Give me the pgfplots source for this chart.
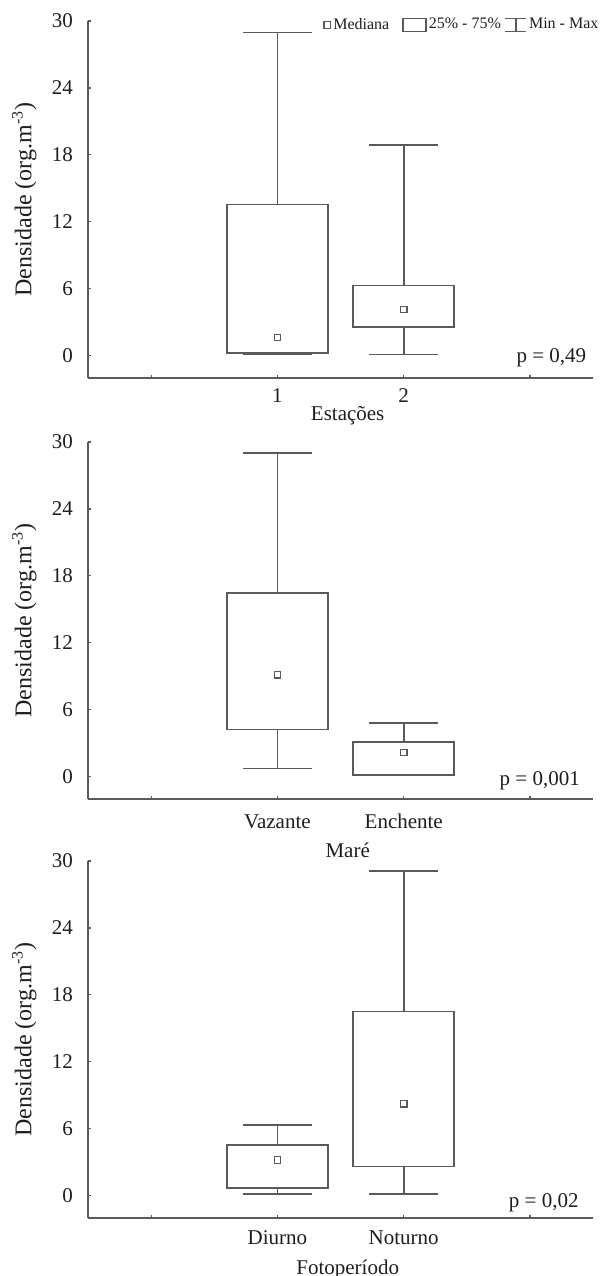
\documentclass[border=0pt]{standalone}
\usepackage{fontspec}
\setmainfont{Liberation Serif}
\usepackage{pgfplots}
\pgfplotsset{compat=1.18}
\usepgfplotslibrary{statistics}
\definecolor{lc}{HTML}{5A5A5A}
\definecolor{tc}{HTML}{1E1E1E}
\tikzset{pval/.style={anchor=base east, font=\fontsize{10.5}{12}\selectfont, text=tc}}
\pgfplotsset{
  panel/.style={
    width=252.6pt, height=178.5pt, scale only axis,
    xmin=-0.5, xmax=3.5, ymin=-2, ymax=30,
    axis x line=bottom, axis y line=left,
    axis line style={-, draw=lc, line width=0.8pt},
    xtick={0,1,2,3}, ytick={0,6,12,18,24,30},
    tick align=inside, major tick length=1.5pt,
    tick style={draw=lc, line width=0.6pt},
    /pgf/number format/assume math mode=true,
    ticklabel style={font=\fontsize{10.5}{12}\selectfont, text=tc},
    yticklabel style={xshift=-4pt},
    xticklabel style={anchor=base},
    ylabel={Densidade (org.m\textsuperscript{-3})},
    ylabel style={at={(axis description cs:-0.126,0.5)}, anchor=center, font=\fontsize{12}{14}\selectfont, text=tc},
    xlabel style={at={(axis description cs:0.514,0)}, anchor=base, font=\fontsize{10.5}{12}\selectfont, text=tc},
    clip=false,
    boxplot/draw direction=y,
    boxplot/draw/median/.code={},
    boxplot/box extend=0.8,
    boxplot/whisker extend=0.55,
  },
  bx/.style={draw=lc, line width=0.8pt, solid, fill=none, forget plot},
  med/.style={only marks, mark=square, mark size=1.6pt, draw=lc, mark options={line width=0.6pt, fill=white, solid}, forget plot},
}
\begin{document}
\begin{tikzpicture}
% ---------- Panel 1: Estacoes ----------
\begin{axis}[panel, at={(0,420pt)}, anchor=south west,
  xticklabels={{},1,2,{}},
  xticklabel style={yshift=-12.5pt},
  xlabel={Estações},
  xlabel style={yshift=-21.5pt},
  legend columns=3,
  legend style={at={(axis cs:1.36,29.64)}, anchor=west, draw=none, fill=none,
    font=\fontsize{8}{9}\selectfont, text=tc, inner sep=0pt,
    nodes={inner xsep=1pt, inner ysep=0.5pt},
    /tikz/column 2/.style={column sep=5.5pt},
    /tikz/column 4/.style={column sep=0.8pt}},
]
\addlegendimage{legend image code/.code={\draw[lc, line width=0.6pt] (0pt,-1.7pt) rectangle (3.4pt,1.7pt);}}
\addlegendentry{Mediana}
\addlegendimage{legend image code/.code={\draw[lc, line width=0.8pt] (0pt,-3.2pt) rectangle (11.5pt,3.2pt);}}
\addlegendentry{25\% - 75\%}
\addlegendimage{legend image code/.code={\draw[lc, line width=0.8pt] (0pt,3.2pt) -- (10.5pt,3.2pt) (5.25pt,3.2pt) -- (5.25pt,-3.2pt) (0pt,-3.2pt) -- (10.5pt,-3.2pt);}}
\addlegendentry{Min - Max}
\addplot[bx, boxplot prepared={draw position=1, lower whisker=0.15, lower quartile=0.24, median=1.64, upper quartile=13.55, upper whisker=28.98}] coordinates {};
\addplot[bx, boxplot prepared={draw position=2, lower whisker=0.09, lower quartile=2.57, median=4.15, upper quartile=6.3, upper whisker=18.9}] coordinates {};
\addplot[med] coordinates {(1,1.64) (2,4.15)};
\node[pval] at (axis cs:3.5,-0.65) {p = 0,49};
\end{axis}
% ---------- Panel 2: Mare ----------
\begin{axis}[panel, at={(0,209.5pt)}, anchor=south west,
  xticklabels={{},Vazante,Enchente,{}},
  xticklabel style={yshift=-15pt},
  xlabel={Maré},
  xlabel style={yshift=-29.5pt},
]
\addplot[bx, boxplot prepared={draw position=1, lower whisker=0.74, lower quartile=4.23, median=9.14, upper quartile=16.47, upper whisker=29.04}] coordinates {};
\addplot[bx, boxplot prepared={draw position=2, lower whisker=0.15, lower quartile=0.15, median=2.17, upper quartile=3.13, upper whisker=4.83}] coordinates {};
\addplot[med] coordinates {(1,9.14) (2,2.17)};
\node[pval] at (axis cs:3.45,-0.75) {p = 0,001};
\end{axis}
% ---------- Panel 3: Fotoperiodo ----------
\begin{axis}[panel, at={(0,0)}, anchor=south west,
  xticklabels={{},Diurno,Noturno,{}},
  xticklabel style={yshift=-13pt},
  xlabel={Fotoperíodo},
  xlabel style={yshift=-28pt},
]
\addplot[bx, boxplot prepared={draw position=1, lower whisker=0.15, lower quartile=0.69, median=3.2, upper quartile=4.55, upper whisker=6.35}] coordinates {};
\addplot[bx, boxplot prepared={draw position=2, lower whisker=0.15, lower quartile=2.6, median=8.24, upper quartile=16.5, upper whisker=29.1}] coordinates {};
\addplot[med] coordinates {(1,3.2) (2,8.24)};
\node[pval] at (axis cs:3.44,-1.1) {p = 0,02};
\end{axis}
\pgfresetboundingbox
\useasboundingbox (-44pt,-29pt) rectangle (256pt,609pt);
\end{tikzpicture}
\end{document}
